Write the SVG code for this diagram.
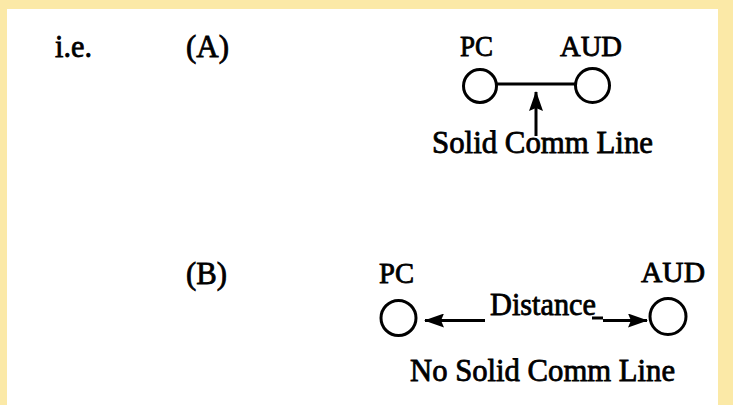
<svg xmlns="http://www.w3.org/2000/svg" width="733" height="405" viewBox="0 0 733 405">
  <defs>
    <marker id="ah" viewBox="0 0 20 14" refX="19" refY="7" markerWidth="20" markerHeight="14" markerUnits="userSpaceOnUse" orient="auto">
      <path d="M0,0 L20,7 L0,14 L3,7 Z" fill="#000"/>
    </marker>
    <style>
      text { font-family: "Liberation Serif", "Times New Roman", serif; fill: #000; stroke: #000; stroke-width: 0.8; }
      .t { font-size: 32px; }
      .lbl { font-size: 29px; }
      .node { fill: none; stroke: #000; stroke-width: 3; }
      .conn { fill: none; stroke: #000; stroke-width: 3; }
    </style>
  </defs>
  <rect x="0" y="0" width="733" height="405" fill="#FBE9A7"/>
  <rect x="7" y="9" width="711" height="396" fill="#FFFFFF"/>

  <g id="captions">
    <text class="t" x="55" y="57" textLength="37" lengthAdjust="spacingAndGlyphs">i.e.</text>
    <text class="t" x="186" y="57" textLength="43" lengthAdjust="spacingAndGlyphs">(A)</text>
    <text class="t" x="186" y="284" textLength="41" lengthAdjust="spacingAndGlyphs">(B)</text>
    <text class="t" x="432" y="153" textLength="221" lengthAdjust="spacingAndGlyphs">Solid Comm Line</text>
    <text class="t" x="490" y="315" textLength="106" lengthAdjust="spacingAndGlyphs">Distance</text>
    <text class="t" x="410" y="381" textLength="265" lengthAdjust="spacingAndGlyphs">No Solid Comm Line</text>
  </g>

  <g id="node-pc-a">
    <circle class="node" cx="480" cy="86" r="16.5"/>
    <text class="lbl" x="460" y="56" textLength="33" lengthAdjust="spacingAndGlyphs">PC</text>
  </g>
  <g id="node-aud-a">
    <circle class="node" cx="592.5" cy="85.5" r="17"/>
    <text class="lbl" x="560" y="56" textLength="62" lengthAdjust="spacingAndGlyphs">AUD</text>
  </g>
  <g id="node-pc-b">
    <circle class="node" cx="398.5" cy="318" r="17.5"/>
    <text class="lbl" x="379" y="283" textLength="35" lengthAdjust="spacingAndGlyphs">PC</text>
  </g>
  <g id="node-aud-b">
    <circle class="node" cx="668" cy="316.5" r="18"/>
    <text class="lbl" x="641" y="282" textLength="64" lengthAdjust="spacingAndGlyphs">AUD</text>
  </g>

  <g id="connectors">
    <line class="conn" x1="496.5" y1="84" x2="575.5" y2="84"/>
    <line class="conn" x1="536" y1="136" x2="536" y2="92" stroke-width="2.5" marker-end="url(#ah)"/>
    <line class="conn" x1="485" y1="320.5" x2="425" y2="320.5" marker-end="url(#ah)"/>
    <line class="conn" x1="592" y1="318" x2="603" y2="318" stroke-width="2"/>
    <line class="conn" x1="603" y1="320.5" x2="647" y2="320.5" marker-end="url(#ah)"/>
  </g>
</svg>
